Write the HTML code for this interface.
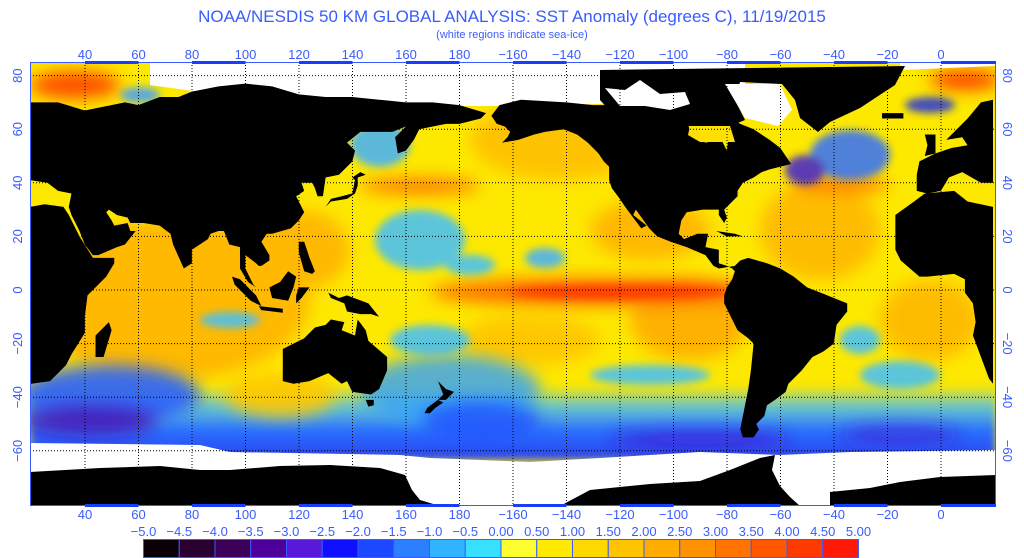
<!DOCTYPE html>
<html><head><meta charset="utf-8"><style>
html,body{margin:0;padding:0;background:#fff;width:1024px;height:558px;overflow:hidden}
svg text{font-family:"Liberation Sans",sans-serif;fill:#3a5cff}
</style></head><body>
<svg width="1024" height="558" viewBox="0 0 1024 558" xmlns="http://www.w3.org/2000/svg">
<defs>
<filter id="b8" x="-50%" y="-50%" width="200%" height="200%"><feGaussianBlur stdDeviation="8"/></filter>
<filter id="b4" x="-50%" y="-50%" width="200%" height="200%"><feGaussianBlur stdDeviation="4"/></filter>
<clipPath id="mc"><rect x="30" y="62" width="966" height="444"/></clipPath>
<linearGradient id="so" x1="0" y1="0" x2="0" y2="1">
<stop offset="0" stop-color="#40c0ff" stop-opacity="0"/>
<stop offset="0.3" stop-color="#40b8ff" stop-opacity="0.8"/>
<stop offset="0.6" stop-color="#2a70ff"/>
<stop offset="1" stop-color="#2a40f0"/>
</linearGradient>
</defs>
<text x="512" y="22" font-size="17" text-anchor="middle">NOAA/NESDIS 50 KM GLOBAL ANALYSIS: SST Anomaly (degrees C), 11/19/2015</text>
<text x="512" y="38" font-size="11" text-anchor="middle">(white regions indicate sea-ice)</text>

<g clip-path="url(#mc)">
<rect x="30" y="62" width="966" height="444" fill="#fde800"/>
<g filter="url(#b8)" opacity="0.9">
<ellipse cx="170" cy="300" rx="140" ry="80" fill="#ffb400"/>
<ellipse cx="300" cy="250" rx="50" ry="40" fill="#ffb400"/>
<ellipse cx="560" cy="140" rx="90" ry="40" fill="#ffc000"/>
<ellipse cx="820" cy="230" rx="60" ry="50" fill="#ffb800"/>
<ellipse cx="930" cy="320" rx="50" ry="40" fill="#ffb800"/>
<ellipse cx="650" cy="230" rx="60" ry="30" fill="#ffb400"/>
<ellipse cx="690" cy="320" rx="60" ry="40" fill="#ffac00"/>
<ellipse cx="530" cy="340" rx="70" ry="25" fill="#ffc400"/>
<ellipse cx="420" cy="186" rx="60" ry="8" fill="#ff7000"/>
<ellipse cx="840" cy="185" rx="50" ry="7" fill="#ff6000"/>
<ellipse cx="75" cy="85" rx="45" ry="14" fill="#ff4000"/>
<ellipse cx="965" cy="80" rx="35" ry="10" fill="#ff3000"/>
</g>
<ellipse cx="600" cy="292" rx="170" ry="14" fill="#ff7000" filter="url(#b8)"/>
<ellipse cx="620" cy="292" rx="110" ry="7" fill="#ff4000" filter="url(#b4)"/>
<g filter="url(#b4)" opacity="0.85">
<ellipse cx="420" cy="240" rx="45" ry="30" fill="#40c0ff"/>
<ellipse cx="470" cy="265" rx="25" ry="10" fill="#40c0ff"/>
<ellipse cx="545" cy="258" rx="20" ry="10" fill="#40b0ff"/>
<ellipse cx="230" cy="320" rx="30" ry="8" fill="#40c0ff"/>
<ellipse cx="380" cy="145" rx="30" ry="22" fill="#40b0ff"/>
<ellipse cx="430" cy="340" rx="40" ry="15" fill="#40c0ff"/>
<ellipse cx="850" cy="155" rx="40" ry="25" fill="#3070ff"/>
<ellipse cx="805" cy="170" rx="20" ry="15" fill="#4020d0"/>
<ellipse cx="930" cy="105" rx="25" ry="8" fill="#2030e0"/>
<ellipse cx="860" cy="340" rx="20" ry="14" fill="#40c0ff"/>
<ellipse cx="900" cy="375" rx="40" ry="14" fill="#40c0ff"/>
<ellipse cx="650" cy="375" rx="60" ry="10" fill="#40c0ff"/>
<ellipse cx="140" cy="95" rx="20" ry="8" fill="#40a0ff"/>
</g>
<rect x="30" y="385" width="966" height="75" fill="url(#so)" filter="url(#b4)"/>
<g filter="url(#b8)">
<ellipse cx="110" cy="395" rx="90" ry="30" fill="#2a60ff" opacity="0.9"/>
<ellipse cx="90" cy="420" rx="70" ry="16" fill="#4a10b0" opacity="0.8"/>
<ellipse cx="450" cy="390" rx="90" ry="35" fill="#30a0ff" opacity="0.8"/>
<ellipse cx="480" cy="420" rx="60" ry="20" fill="#2050ff" opacity="0.8"/>
<ellipse cx="280" cy="395" rx="55" ry="22" fill="#ffc800" opacity="0.9"/>
<ellipse cx="700" cy="440" rx="90" ry="10" fill="#4020d0" opacity="0.7"/>
<ellipse cx="900" cy="435" rx="60" ry="10" fill="#4020d0" opacity="0.6"/>
</g>
<path d="M30 443 L200 445 L230 452 L400 455 L430 458 L530 462 L600 458 L700 452 L780 455 L850 452 L996 450 V506 H30Z" fill="#fff"/>
<path d="M150 62 H745 V100 L700 102 L600 104 L500 106 L440 106 L400 104 L300 100 L200 92 L150 85Z" fill="#fff"/>
<path d="M996 62 H900 V70 L996 66Z" fill="#fff"/>
<g fill="#000" transform="matrix(2.675 0 0 -2.68 -22.16 290)">
<path d="M19.5,70 30,70 40,67 45,68 55,70 60,69 68,72 75,72 80,74 90,76 100,77 110,76 120,73 130,72 140,72 150,71 160,70 170,70 180,69 190,66 188,64 180,62 175,62 165,60 163,56 160,52 157,51 156,57 160,61 155,59 143,59 138,55 141,52 140,48 135,43 130,42 129,35 127,35 126,38 125,40 121,40 122,37 119,35 121,31 122,29 120,26 117,23 110,21 108,21 106,18 109,13 109,11 106,9 105,9 104,10 100,13 100,8 103,2 104,1 101,3 98,8 98,16 94,17 92,22 90,22 87,21 86,19 80,15 80,10 77,8 73,17 72,21 68,24 62,25 57,25 56,27 52,28 49,30 48,29 50,26 51,24 56,25 57,22 59,22 55,17 52,16 45,13 43,13 40,17 38,22 35,28 34,31 35,36 30,37 26,40 19.5,41Z"/>
<path d="M19.5,31 25,32 32,31 34,28 38,20 43,12 51,12 51,10 48,5 41,-2 40,-10 40,-16 35,-24 33,-28 27,-34 20,-35 19.5,-35Z"/>
<path d="M44,-25 47,-25 50,-15 49,-12 44,-17Z"/>
<path d="M379.5,71 375,70 370,64 365,59 362,56 368,57 370,54 364,53 358,51 352,48 351,43 351,37 355,36 360,37 363,42 368,44 375,40 379.5,40Z"/>
<path d="M354,50 358,51 358,58 354,58 355,54Z"/>
<path d="M338,64 346,64 346,66 338,66Z"/>
<path d="M379.5,31 370,33 365,37 354,36 350,33 343,28 343,21 343,15 345,11 352,5 355,5 365,6 369,4 369,-1 372,-5 373,-12 372,-17 375,-25 378,-33 379.5,-35Z"/>
<path d="M130,31 132,34 136,35 140,36 141,41 140,42 143,44 145,43 142,42 142,39 141,36 138,34 132,33Z"/>
<path d="M120,18 122,18 124,12 126,7 125,6 122,7 120,14Z"/>
<path d="M109,1 110,-3 116,-4 118,1 119,5 116,7 113,3Z"/>
<path d="M95,5 98,4 104,-2 106,-6 102,-4 96,2Z"/>
<path d="M105,-6 114,-7 114,-8.5 106,-7.5Z"/>
<path d="M119,-5 121,-3 124,1 120,1 119,-2Z"/>
<path d="M131,-1 135,-3 138,-2 146,-5 150,-10 147,-9 143,-9 138,-8 137,-5 132,-3Z"/>
<path d="M114,-22 114,-34 118,-35 124,-34 131,-31 136,-35 138,-34 140,-38 147,-39 150,-37 153,-30 153,-25 146,-19 145,-15 142,-11 141,-17 136,-15 137,-12 132,-11 130,-13 126,-14 122,-18Z"/>
<path d="M145,-41 148,-41 148,-43 146,-43.5Z"/>
<path d="M172,-34 175,-37 178,-38 175,-41 172,-41 174,-39Z M172,-41 174,-42 171,-44 169,-46 167,-46 168,-44Z"/>
<path d="M192,65 195,69 203,71 220,70 230,69 240,69 250,68 260,67 265,64 266,60 268,57 272,55 278,56 280,52 281,60 278,62 282,64 285,62 290,60 296,56 300,53 304,47 296,45 293,44 290,42 286,40 284,37 284,35 279,30 280,27 279,25 277,28 277,30 271,30 265,29 263,26 262,21 264,19 269,21 273,21 272,16 277,15 277,10 280,9 282,8 283,9 277,8 275,9 272,13 265,16 259,18 254,20 251,23 246,30 245,28 250,24 248,23 245,27 242,31 240,34 237,38 236,41 236,46 234,48 232,51 228,55 224,58 219,60 212,59 208,58 202,56 196,55 198,57 199,59 197,61 194,62Z"/>
<path d="M282,8 285,11 288,12 295,10 300,8 305,5 310,1 315,-1 325,-5 325,-8 321,-13 320,-20 316,-23 312,-25 308,-30 303,-35 302,-38 298,-41 295,-43 294,-47 291,-50 292,-52 290,-55 286,-55 285,-52 286,-47 287,-42 288,-37 289,-30 290,-20 288,-18 284,-15 281,-9 279,-5 279,-2 280,1 282,4 283,7Z"/>
<path d="M276,22 283,21 286,20 280,20Z"/>
</g>
<path d="M600 70 L905 66 L895 85 L860 108 L830 122 L818 132 L800 118 L795 100 L782 84 L740 82 L735 100 L745 120 L730 126 L690 126 L650 130 L620 122 L600 100Z" fill="#000"/>
<path d="M725 84 L780 84 L792 110 L778 126 L745 118Z" fill="#fff"/>
<path d="M690 126 L730 126 L735 142 L700 142 L688 135Z" fill="#ffe000"/>
<path d="M605 88 L625 90 L640 80 L660 94 L685 92 L690 104 L670 110 L645 106 L620 106Z" fill="#fff"/>
<path d="M30 472 L100 468 L160 466 L200 470 L230 470 L280 466 L330 465 L380 468 L405 475 L412 490 L420 500 L440 506 H30Z" fill="#000"/>
<path d="M560 506 L590 490 L650 484 L700 481 L730 470 L760 458 L775 455 L772 470 L780 486 L790 497 L800 506Z" fill="#000"/>
<path d="M830 506 L830 492 L870 488 L900 482 L940 477 L996 475 V506Z" fill="#000"/>
<g stroke="#000" stroke-width="1" stroke-dasharray="1,2">
<line x1="85" y1="62" x2="85" y2="506"/><line x1="138.5" y1="62" x2="138.5" y2="506"/><line x1="192" y1="62" x2="192" y2="506"/><line x1="245.5" y1="62" x2="245.5" y2="506"/><line x1="299" y1="62" x2="299" y2="506"/><line x1="352.5" y1="62" x2="352.5" y2="506"/><line x1="406" y1="62" x2="406" y2="506"/><line x1="459.5" y1="62" x2="459.5" y2="506"/><line x1="513" y1="62" x2="513" y2="506"/><line x1="566.5" y1="62" x2="566.5" y2="506"/><line x1="620" y1="62" x2="620" y2="506"/><line x1="673.5" y1="62" x2="673.5" y2="506"/><line x1="727" y1="62" x2="727" y2="506"/><line x1="780.5" y1="62" x2="780.5" y2="506"/><line x1="834" y1="62" x2="834" y2="506"/><line x1="887.5" y1="62" x2="887.5" y2="506"/><line x1="941" y1="62" x2="941" y2="506"/>
<line x1="30" y1="75.6" x2="996" y2="75.6"/><line x1="30" y1="129.2" x2="996" y2="129.2"/><line x1="30" y1="182.8" x2="996" y2="182.8"/><line x1="30" y1="236.4" x2="996" y2="236.4"/><line x1="30" y1="290" x2="996" y2="290"/><line x1="30" y1="343.6" x2="996" y2="343.6"/><line x1="30" y1="397.2" x2="996" y2="397.2"/><line x1="30" y1="450.8" x2="996" y2="450.8"/>
</g>
</g>
<rect x="30.5" y="62.5" width="965" height="443" fill="none" stroke="#3a5cff" stroke-width="1"/>
<g fill="#1a3cff">
<rect x="85" y="61" width="53.5" height="3"/><rect x="192" y="61" width="53.5" height="3"/><rect x="299" y="61" width="53.5" height="3"/><rect x="406" y="61" width="53.5" height="3"/><rect x="513" y="61" width="53.5" height="3"/><rect x="620" y="61" width="53.5" height="3"/><rect x="727" y="61" width="53.5" height="3"/><rect x="834" y="61" width="53.5" height="3"/><rect x="941" y="61" width="55" height="3"/>
<rect x="85" y="504" width="53.5" height="3"/><rect x="192" y="504" width="53.5" height="3"/><rect x="299" y="504" width="53.5" height="3"/><rect x="406" y="504" width="53.5" height="3"/><rect x="513" y="504" width="53.5" height="3"/><rect x="620" y="504" width="53.5" height="3"/><rect x="727" y="504" width="53.5" height="3"/><rect x="834" y="504" width="53.5" height="3"/><rect x="941" y="504" width="55" height="3"/>
</g>
<g font-size="13" text-anchor="middle">
<text x="85" y="59">40</text><text x="138.5" y="59">60</text><text x="192" y="59">80</text><text x="245.5" y="59">100</text><text x="299" y="59">120</text><text x="352.5" y="59">140</text><text x="406" y="59">160</text><text x="459.5" y="59">180</text><text x="513" y="59">−160</text><text x="566.5" y="59">−140</text><text x="620" y="59">−120</text><text x="673.5" y="59">−100</text><text x="727" y="59">−80</text><text x="780.5" y="59">−60</text><text x="834" y="59">−40</text><text x="887.5" y="59">−20</text><text x="941" y="59">0</text>
<text x="85" y="519">40</text><text x="138.5" y="519">60</text><text x="192" y="519">80</text><text x="245.5" y="519">100</text><text x="299" y="519">120</text><text x="352.5" y="519">140</text><text x="406" y="519">160</text><text x="459.5" y="519">180</text><text x="513" y="519">−160</text><text x="566.5" y="519">−140</text><text x="620" y="519">−120</text><text x="673.5" y="519">−100</text><text x="727" y="519">−80</text><text x="780.5" y="519">−60</text><text x="834" y="519">−40</text><text x="887.5" y="519">−20</text><text x="941" y="519">0</text>
</g>
<g font-size="13" text-anchor="middle">
<text transform="translate(22,75.6) rotate(-90)">80</text><text transform="translate(22,129.2) rotate(-90)">60</text><text transform="translate(22,182.8) rotate(-90)">40</text><text transform="translate(22,236.4) rotate(-90)">20</text><text transform="translate(22,290) rotate(-90)">0</text><text transform="translate(22,343.6) rotate(-90)">−20</text><text transform="translate(22,397.2) rotate(-90)">−40</text><text transform="translate(22,450.8) rotate(-90)">−60</text>
<text transform="translate(1003,75.6) rotate(90)">80</text><text transform="translate(1003,129.2) rotate(90)">60</text><text transform="translate(1003,182.8) rotate(90)">40</text><text transform="translate(1003,236.4) rotate(90)">20</text><text transform="translate(1003,290) rotate(90)">0</text><text transform="translate(1003,343.6) rotate(90)">−20</text><text transform="translate(1003,397.2) rotate(90)">−40</text><text transform="translate(1003,450.8) rotate(90)">−60</text>
</g>
<g stroke="#3a5cff" stroke-width="1">
<rect x="143.5" y="539.5" width="35.75" height="18" fill="#0a0008"/><rect x="179.25" y="539.5" width="35.75" height="18" fill="#2a0030"/><rect x="215" y="539.5" width="35.75" height="18" fill="#3c0058"/><rect x="250.75" y="539.5" width="35.75" height="18" fill="#50009a"/><rect x="286.5" y="539.5" width="35.75" height="18" fill="#5a18d8"/><rect x="322.25" y="539.5" width="35.75" height="18" fill="#1010ff"/><rect x="358" y="539.5" width="35.75" height="18" fill="#1c48ff"/><rect x="393.75" y="539.5" width="35.75" height="18" fill="#2c80ff"/><rect x="429.5" y="539.5" width="35.75" height="18" fill="#30b4ff"/><rect x="465.25" y="539.5" width="35.75" height="18" fill="#38e0ff"/><rect x="501" y="539.5" width="35.75" height="18" fill="#ffff30"/><rect x="536.75" y="539.5" width="35.75" height="18" fill="#ffea00"/><rect x="572.5" y="539.5" width="35.75" height="18" fill="#ffd800"/><rect x="608.25" y="539.5" width="35.75" height="18" fill="#ffc400"/><rect x="644" y="539.5" width="35.75" height="18" fill="#ffac00"/><rect x="679.75" y="539.5" width="35.75" height="18" fill="#ff9200"/><rect x="715.5" y="539.5" width="35.75" height="18" fill="#ff7400"/><rect x="751.25" y="539.5" width="35.75" height="18" fill="#ff5800"/><rect x="787" y="539.5" width="35.75" height="18" fill="#ff3a00"/><rect x="822.75" y="539.5" width="35.75" height="18" fill="#ff1a08"/>
</g>
<g font-size="13" text-anchor="middle">
<text x="143.5" y="536">−5.0</text><text x="179.25" y="536">−4.5</text><text x="215" y="536">−4.0</text><text x="250.75" y="536">−3.5</text><text x="286.5" y="536">−3.0</text><text x="322.25" y="536">−2.5</text><text x="358" y="536">−2.0</text><text x="393.75" y="536">−1.5</text><text x="429.5" y="536">−1.0</text><text x="465.25" y="536">−0.5</text><text x="501" y="536">0.00</text><text x="536.75" y="536">0.50</text><text x="572.5" y="536">1.00</text><text x="608.25" y="536">1.50</text><text x="644" y="536">2.00</text><text x="679.75" y="536">2.50</text><text x="715.5" y="536">3.00</text><text x="751.25" y="536">3.50</text><text x="787" y="536">4.00</text><text x="822.75" y="536">4.50</text><text x="858.5" y="536">5.00</text>
</g>
</svg>
</body></html>
